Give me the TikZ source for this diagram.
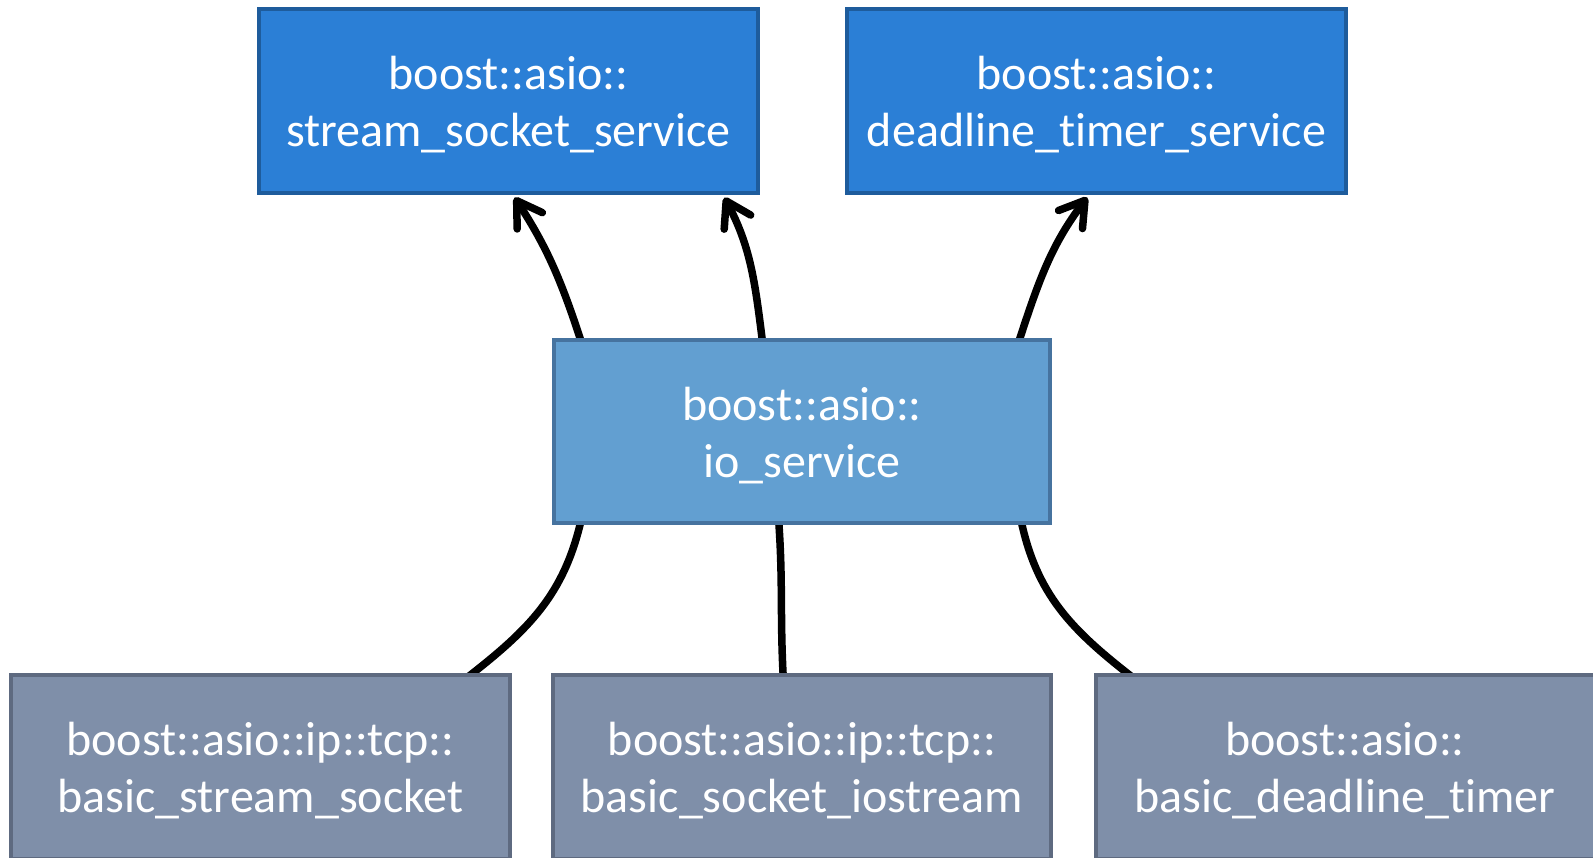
\documentclass[tikz,border=0pt]{standalone}
\usepackage{fontspec}
\setmainfont{Carlito}[Ligatures=NoCommon]
\usetikzlibrary{arrows.meta,backgrounds}

\definecolor{svcfill}{HTML}{2B7FD6}
\definecolor{svcline}{HTML}{1E5C9C}
\definecolor{iofill}{HTML}{629FD1}
\definecolor{ioline}{HTML}{46739F}
\definecolor{objfill}{HTML}{7F8FA9}
\definecolor{objline}{HTML}{5E6A80}

% two centred lines, baseline on the last line
\newcommand{\twolines}[2]{\begin{tabular}[b]{@{}c@{}}#1\\#2\end{tabular}}

\begin{document}
\begin{tikzpicture}[x=1pt,y=1pt,
  classbox/.style={draw, line width=4pt, minimum width=499pt, minimum height=184pt,
    inner sep=0pt, text=white, font=\fontsize{48}{57}\selectfont,
    text height=92pt, text depth=0pt},
  svcbox/.style={classbox, fill=svcfill, draw=svcline},
  iobox/.style={classbox, fill=iofill, draw=ioline, minimum height=183pt},
  objbox/.style={classbox, fill=objfill, draw=objline},
  link/.style={line width=7.5pt, black, shorten <=-5pt},
  uses/.style={link, -{Straight Barb[length=24pt,width=30pt,round]}, shorten >=3pt}
]
\useasboundingbox (0,0) rectangle (1593,858);

% services
\node[svcbox] (sss) at (508.5,757) {\twolines{boost::asio::}{stream\_socket\_service}};
\node[svcbox] (dts) at (1096.5,757) {\twolines{boost::asio::}{deadline\_timer\_service}};

% the io_service
\node[iobox, minimum width=496pt] (io) at (802,426.5) {\twolines{boost::asio::}{io\_service}};

% I/O objects
\node[objbox] (bss) at (260.5,91) {\twolines{boost::asio::ip::tcp::}{basic\_stream\_socket}};
\node[objbox, minimum width=498pt] (bsi) at (802,91) {\twolines{boost::asio::ip::tcp::}{basic\_socket\_iostream}};
\node[objbox] (bdt) at (1345,91) {\twolines{boost::asio::}{basic\_deadline\_timer}};

\begin{scope}[on background layer]
  \fill[white] (0,0) rectangle (1593,858);
  % io_service to its services
  \draw[uses] ([xshift=-222pt]io.north) to[out=108,in=-57] ([xshift=4.5pt]sss.south);
  \draw[uses] ([xshift=-40pt]io.north) to[out=97,in=-62] ([xshift=214.5pt]sss.south);
  \draw[uses] ([xshift=218pt]io.north) to[out=72,in=-127] ([xshift=-7.5pt]dts.south);
  % I/O objects to the io_service
  \draw[link, shorten >=-5pt] ([xshift=212.5pt]bss.north) to[out=38,in=-103] ([xshift=-222pt]io.south);
  \draw[link, shorten >=-5pt] ([xshift=-19pt]bsi.north) to[out=93,in=-86] ([xshift=-23pt]io.south);
  \draw[link, shorten >=-5pt] ([xshift=-218pt]bdt.north) to[out=142,in=-78] ([xshift=220pt]io.south);
\end{scope}
\end{tikzpicture}
\end{document}
